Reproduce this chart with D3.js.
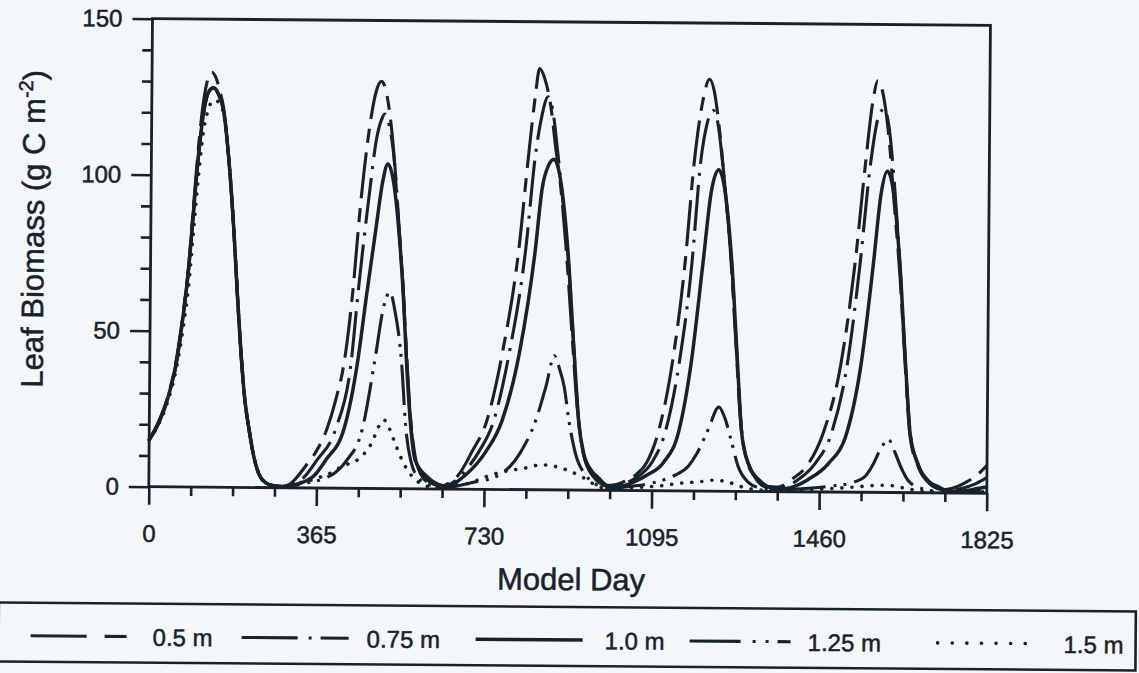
<!DOCTYPE html>
<html>
<head>
<meta charset="utf-8">
<script src="https://cdn.jsdelivr.net/npm/d3@7"></script>
<style>
  html, body { margin: 0; padding: 0; background: #f4f7f9; }
  svg { display: block; }
</style>
</head>
<body>
<svg id="chart" width="1139" height="673"></svg>
<script>
// Simulated leaf biomass over five model years for five water-table depths.

const dayTicks = [0, 365, 730, 1095, 1460, 1825];
const biomassTicks = [0, 50, 100, 150];
const depthLabels = ["0.5 m", "0.75 m", "1.0 m", "1.25 m", "1.5 m"];

// 0.5 m
const days05 = [0,22,40,58,72,83,93,103,113,122,130,140,148,156,170,181,190,198,207,218,228,239,254,272,290,
  305,320,341,365,387,405,424,439,457,475,488,500,512,525,540,551,559,570,580,595,615,635,
  655,674,703,735,768,801,822,835,844,855,870,880,892,905,920,932,944,960,980,1000,
  1030,1060,1084,1109,1138,1164,1182,1200,1214,1225,1235,1250,1262,1275,1288,1300,1320,1345,
  1370,1400,1436,1468,1505,1534,1555,1570,1581,1592,1605,1620,1632,1646,1657,1675,1700,1730,1750,1780,1805,1825];
const leaf05 = [15,21.5,29,41,56,71,91,110,124,131,133,131,127,122,103,82,61,44,29,18,10,4.5,1.6,0.6,0.4,
  1,3,7,12,19,28,41,60,92,116,127,130.5,126,112,84,63,43,21,10,4,1.5,0.8,
  2,4.5,12,22,44,76,108,126,135,132,122,110,97,77,48,26,13,6,3,1.5,
  2.5,5,9,19,41,73,105,125,132,128,118,97,78,50,22,11,4.5,1.5,
  1.5,4,9,19,41,73,105,125,132,128,115,90,70,39,18,8.5,3,1,1.5,3.5,6,9];

// 0.75 m
const days075 = [0,22,40,58,72,83,93,103,113,123,134,145,156,170,181,190,198,207,218,228,239,254,272,290,
  310,335,366,406,439,452,475,490,500,508,518,530,540,551,559,570,580,600,620,640,
  670,695,718,750,783,816,837,850,863,873,885,895,909,924,935,946,965,985,1005,
  1030,1060,1095,1124,1153,1179,1196,1210,1223,1233,1245,1256,1266,1280,1290,1305,1330,1355,
  1380,1415,1450,1486,1519,1545,1566,1582,1595,1605,1618,1632,1646,1657,1675,1700,1735,1770,1800,1825];
const leaf075 = [15,21,28.5,40,55,70,89,107,120,126.5,128,126,121,103,82,61,44,29,18,10,4.5,1.6,0.6,0.4,
  1,3,9,19,41,62,94,112,118,120,116,104,85,63,42,20,9.5,4,1.5,1,
  3,7,12,22,44,76,108,120,126,122,108,95,75,44,22,11.5,5,2,1.2,
  2,4,9,19,41,73,105,118,122,118,104,88,72,40,19.5,9,3.5,1.5,
  1.5,4,9,19,41,73,105,120,123,118,100,73,41,19.5,9,3,0.8,1.5,3,5];

// 1.0 m
const days10 = [0,22,40,58,72,83,93,103,113,123,134,145,156,170,181,190,198,207,218,228,239,254,272,290,
  330,360,385,424,453,471,490,505,515,527,540,551,559,570,580,609,630,650,
  689,733,768,805,837,852,865,877,893,909,924,935,946,965,979,1000,
  1030,1060,1085,1120,1153,1179,1203,1220,1236,1250,1266,1280,1290,1305,1334,1360,1385,
  1410,1436,1479,1519,1549,1574,1590,1603,1617,1632,1646,1657,1675,1700,1719,1745,1780,1805,1825];
const leaf10 = [15,21,28.5,40,55,70,89,107,120,126.5,128,126,121,103,82,61,44,29,18,10,4.5,1.6,0.6,0.4,
  1.5,4,9,19,41,62,83,99,104,99,83,62,41,19,9,3.5,1.5,1,
  4.5,12,22,44,76,97,104,106,98,76,44,22,12,6,4,1.5,
  1.5,3,5,9,19,41,73,96,103,96,73,41,19,9,3,1,1,
  2,4,9,19,41,73,96,103,96,73,41,19,9,3.5,2,0.5,0.8,1.5,2];

// 1.25 m
const days125 = [0,22,40,58,72,83,93,103,113,123,134,145,156,170,181,190,198,207,218,228,239,254,272,290,
  340,380,406,431,464,490,508,522,533,548,559,570,590,620,650,
  700,761,809,841,863,881,892,903,914,928,953,980,1010,
  1060,1110,1146,1175,1193,1218,1240,1252,1268,1283,1305,1330,1370,
  1420,1480,1530,1559,1577,1595,1610,1624,1638,1653,1680,1720,1780,1825];
const leaf125 = [15,21,28.5,40,55,70,89,107,120,126.5,128,126,121,103,82,61,44,29,18,10,4.5,1.6,0.6,0.4,
  1.5,3,5,9,19,41,58,63,57,41,19,9,3,1,0.6,
  2,4.5,12,22,33,43,39,33,22,12,4.5,1.5,0.8,
  1.5,3,5,8,12,20,27,24,16,8,3,1.2,0.6,
  1,1.8,3,5,9,14.5,17,13,8,4,1.5,0.5,0.6,1];

// 1.5 m
const days15 = [0,22,40,58,72,83,93,103,113,123,135,145,156,170,181,190,198,207,218,228,239,254,272,290,
  326,363,398,420,457,486,500,511,522,537,555,573,595,620,
  660,700,733,766,822,855,885,917,946,975,1000,
  1060,1110,1160,1200,1230,1260,1290,1330,
  1400,1470,1530,1580,1610,1640,1680,1750,1825];
const leaf15 = [15,20.5,27.5,38,51,64,82,100,114,121,124,123.5,120,103,82,61,44,29,18,10,4.5,1.6,0.6,0.4,
  1.5,3,5,7,9.5,15,20,22,19.5,14,8,4,1.5,0.5,
  1,2,4,5.5,7,8,7.5,6,4,1.5,0.5,
  1,1.5,2.5,3,3.5,3,1.5,0.5,
  0.6,1,1.6,2.2,2.3,1.6,0.6,0.3,0.5];

const seriesDays = [days05, days075, days10, days125, days15];
const seriesLeaf = [leaf05, leaf075, leaf10, leaf125, leaf15];

// line styles per depth: plot dash, legend dash, widths, legend placement
const styles = [
  { dash: "46,10,14,10", legendDash: "56,18,22,40", width: 3.1, cap: "butt", lx0: 33, lx1: 129, tx: 155 },
  { dash: "46,9,3,9", legendDash: "56,11,3,9,29,40", width: 3.1, cap: "butt", lx0: 244, lx1: 351, tx: 369 },
  { dash: null, legendDash: null, width: 3.5, cap: "butt", lx0: 478, lx1: 585, tx: 607 },
  { dash: "40,8,3,7,3,8", legendDash: "51,12,3,10,3,9,13,40", width: 3.1, cap: "butt", lx0: 692, lx1: 794, tx: 810 },
  { dash: "0.1,10", legendDash: "0.1,14.5", width: 3.6, cap: "round", lx0: 940, lx1: 1042, tx: 1066 }
];

const W = 1139, H = 673;
const ink = "#18222b";
const font = "'Liberation Sans', Arial, Helvetica, sans-serif";

const svg = d3.select("#chart");
svg.append("rect").attr("width", W).attr("height", H).attr("fill", "#f4f7f9");

const g = svg.append("g").attr("transform", "rotate(0.45,570,336)");

const plot = { left: 150, right: 988, top: 22, bottom: 490 };
const x = d3.scaleLinear().domain([0, 1825]).range([plot.left, plot.right]);
const y = d3.scaleLinear().domain([0, 150]).range([plot.bottom, plot.top]);

// curves
const line = d3.line()
  .x(d => x(d[0]))
  .y(d => y(d[1]))
  .curve(d3.curveMonotoneX);

const curves = g.append("g").attr("class", "curves");
seriesDays.forEach((days, i) => {
  const pts = days.map((d, k) => [d, seriesLeaf[i][k]]);
  const s = styles[i];
  curves.append("path")
    .attr("d", line(pts))
    .attr("fill", "none")
    .attr("stroke", ink)
    .attr("stroke-width", s.width)
    .attr("stroke-linecap", s.cap)
    .attr("stroke-linejoin", "round")
    .attr("stroke-dasharray", s.dash);
});

// frame
g.append("rect")
  .attr("x", plot.left).attr("y", plot.top)
  .attr("width", plot.right - plot.left).attr("height", plot.bottom - plot.top)
  .attr("fill", "none").attr("stroke", ink).attr("stroke-width", 2.8);

function styleText(sel, size) {
  sel.attr("fill", ink)
    .attr("stroke", ink)
    .attr("stroke-width", 0.5)
    .style("font-family", font)
    .style("font-size", size);
}

function styleAxis(sel) {
  sel.select(".domain").remove();
  sel.selectAll(".tick line").attr("stroke", ink).attr("stroke-width", 2.6);
  sel.selectAll(".tick text").call(styleText, "24px");
}

// y axis ticks
const yMinorVals = d3.range(0, 151, 10).filter(v => v % 50 !== 0);
g.append("g").attr("transform", `translate(${plot.left},0)`)
  .call(d3.axisLeft(y).tickValues(yMinorVals).tickSize(10).tickFormat(""))
  .call(styleAxis);
g.append("g").attr("transform", `translate(${plot.left},0)`)
  .call(d3.axisLeft(y).tickValues(biomassTicks).tickSize(20).tickPadding(10).tickFormat(d3.format("d")))
  .call(styleAxis);

// x axis ticks
const xMinorVals = d3.range(0, 1826, 91.25).filter(v => v % 365 !== 0);
g.append("g").attr("transform", `translate(0,${plot.bottom})`)
  .call(d3.axisBottom(x).tickValues(xMinorVals).tickSize(9).tickFormat(""))
  .call(styleAxis);
g.append("g").attr("transform", `translate(0,${plot.bottom})`)
  .call(d3.axisBottom(x).tickValues(dayTicks).tickSize(18).tickPadding(20).tickFormat(d3.format("d")))
  .call(styleAxis);

// axis titles
g.append("text")
  .attr("x", 573).attr("y", 590)
  .attr("text-anchor", "middle")
  .call(styleText, "31px")
  .text("Model Day");

const yTitle = g.append("text")
  .attr("transform", "translate(43,233) rotate(-90)")
  .attr("text-anchor", "middle")
  .call(styleText, "31px");
yTitle.append("tspan").text("Leaf Biomass (g C m");
yTitle.append("tspan").attr("dy", -12).style("font-size", "20px").text("-2");
yTitle.append("tspan").attr("dy", 12).text(")");

// legend
const legendY = 640;
g.append("rect")
  .attr("x", 1).attr("y", 607).attr("width", 1137).attr("height", 59)
  .attr("fill", "none").attr("stroke", ink).attr("stroke-width", 2.6);

depthLabels.forEach((label, i) => {
  const s = styles[i];
  g.append("line")
    .attr("x1", s.lx0).attr("x2", s.lx1)
    .attr("y1", legendY).attr("y2", legendY)
    .attr("stroke", ink)
    .attr("stroke-width", s.width)
    .attr("stroke-linecap", s.cap)
    .attr("stroke-dasharray", s.legendDash);
  g.append("text")
    .attr("x", s.tx).attr("y", legendY + 9)
    .call(styleText, "24px")
    .text(label);
});
</script>
</body>
</html>
